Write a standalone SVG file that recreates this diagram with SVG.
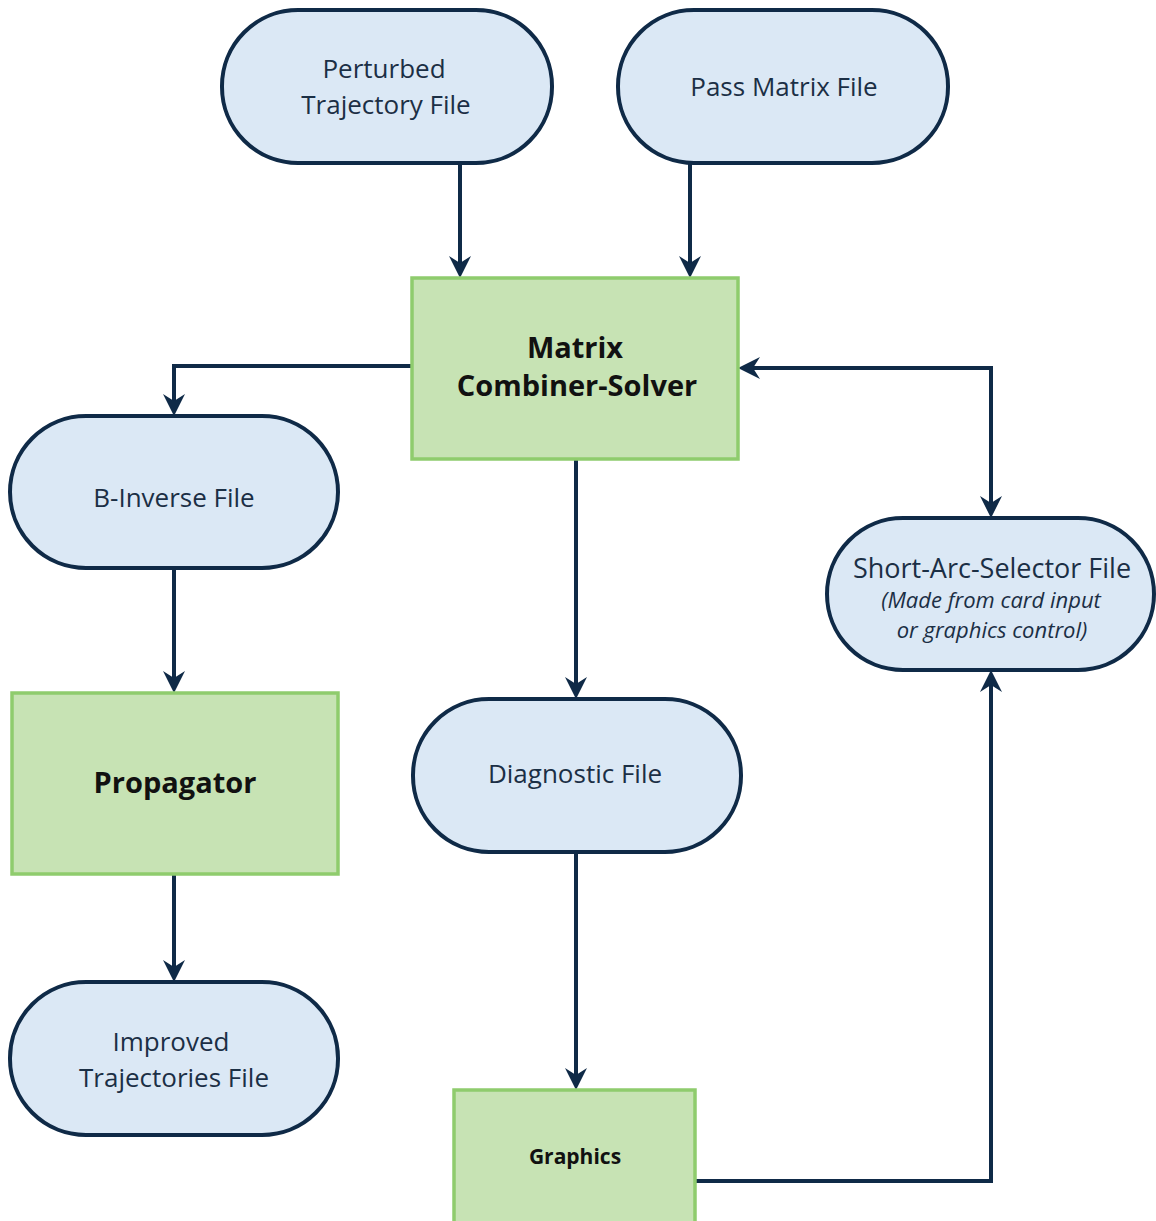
<svg xmlns="http://www.w3.org/2000/svg" width="1156" height="1221" viewBox="0 0 1156 1221">
  <style>
    .file { fill: #dbe8f5; stroke: #0f2a47; stroke-width: 4; }
    .proc { fill: #c7e3b4; stroke: #8fcc6d; stroke-width: 3.5; }
    .ft { font-family: "Open Sans", "Noto Sans", sans-serif; font-size: 26px; fill: #1b2f45; text-anchor: middle; }
    .fi { font-family: "Open Sans", "Noto Sans", sans-serif; font-size: 22px; font-style: italic; fill: #1b2f45; text-anchor: middle; }
    .pt { font-family: "Open Sans", "Noto Sans", sans-serif; font-size: 29px; font-weight: bold; fill: #111111; text-anchor: middle; }
    .link { fill: none; stroke: #0f2a47; stroke-width: 4; }
  </style>
  <defs>
    <marker id="arrow" viewBox="0 0 22 22" refX="8" refY="11" markerWidth="22" markerHeight="22" markerUnits="userSpaceOnUse" orient="auto-start-reverse">
      <path d="M0,0 L22,11 L0,22 L7,11 z" fill="#0f2a47"/>
    </marker>
  </defs>

  <rect width="1156" height="1221" fill="#ffffff"/>

  <!-- connectors -->
  <g id="connectors">
    <path class="link" d="M460,163 V264" marker-end="url(#arrow)"/>
    <path class="link" d="M690,163 V264" marker-end="url(#arrow)"/>
    <path class="link" d="M412,366 H174 V402" marker-end="url(#arrow)"/>
    <path class="link" d="M576,459 V685" marker-end="url(#arrow)"/>
    <path class="link" d="M174,568 V679" marker-end="url(#arrow)"/>
    <path class="link" d="M174,874 V968" marker-end="url(#arrow)"/>
    <path class="link" d="M576,852 V1076" marker-end="url(#arrow)"/>
    <path class="link" d="M695,1181 H991 V684" marker-end="url(#arrow)"/>
    <path class="link" d="M752,368 H991 V504" marker-start="url(#arrow)" marker-end="url(#arrow)"/>
  </g>

  <g id="perturbed-trajectory-file">
    <rect class="file" x="222" y="10" width="330" height="153" rx="76" ry="76"/>
    <text class="ft" x="384" y="78">Perturbed</text>
    <text class="ft" x="386" y="114">Trajectory File</text>
  </g>

  <g id="pass-matrix-file">
    <rect class="file" x="618" y="10" width="330" height="153" rx="76" ry="76"/>
    <text class="ft" x="784" y="96">Pass Matrix File</text>
  </g>

  <g id="matrix-combiner-solver">
    <rect class="proc" x="412" y="278" width="326" height="181"/>
    <text class="pt" x="575" y="358">Matrix</text>
    <text class="pt" x="577" y="396">Combiner-Solver</text>
  </g>

  <g id="b-inverse-file">
    <rect class="file" x="10" y="416" width="328" height="152" rx="76" ry="76"/>
    <text class="ft" x="174" y="507">B-Inverse File</text>
  </g>

  <g id="propagator">
    <rect class="proc" x="12" y="693" width="326" height="181"/>
    <text class="pt" x="175" y="793">Propagator</text>
  </g>

  <g id="diagnostic-file">
    <rect class="file" x="413" y="699" width="328" height="153" rx="76" ry="76"/>
    <text class="ft" x="575" y="783">Diagnostic File</text>
  </g>

  <g id="short-arc-selector-file">
    <rect class="file" x="827" y="518" width="327" height="152" rx="76" ry="76"/>
    <text class="ft" x="992" y="578" style="font-size:27px">Short-Arc-Selector File</text>
    <text class="fi" x="991" y="608">(Made from card input</text>
    <text class="fi" x="992" y="638">or graphics control)</text>
  </g>

  <g id="improved-trajectories-file">
    <rect class="file" x="10" y="982" width="328" height="153" rx="76" ry="76"/>
    <text class="ft" x="171" y="1051">Improved</text>
    <text class="ft" x="174" y="1087">Trajectories File</text>
  </g>

  <g id="graphics">
    <rect class="proc" x="454" y="1090" width="241" height="140"/>
    <text class="pt" x="575" y="1164" style="font-size:21px">Graphics</text>
  </g>
</svg>
